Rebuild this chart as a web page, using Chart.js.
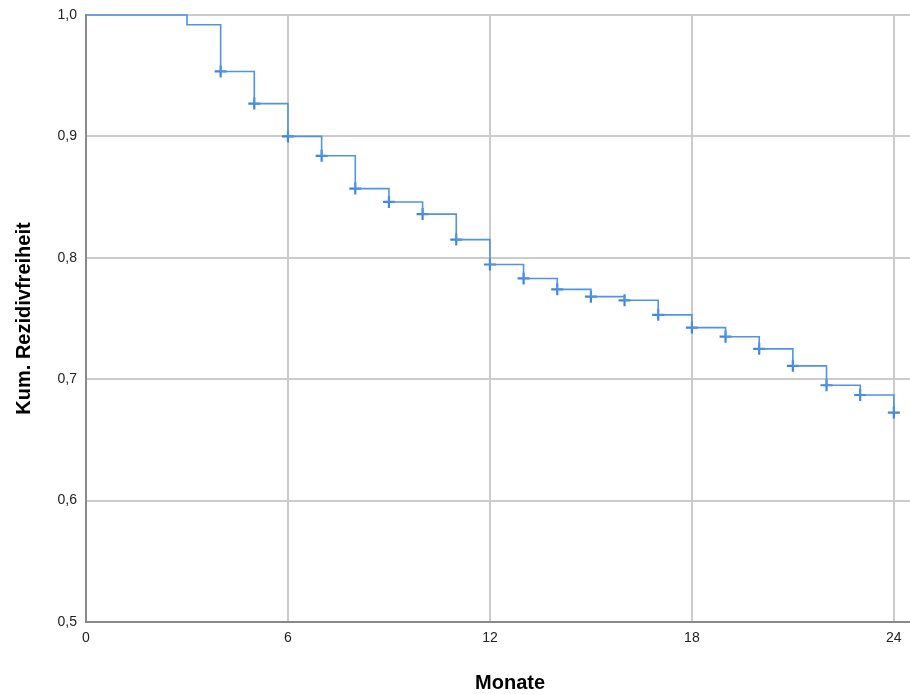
<!DOCTYPE html>
<html>
<head>
<meta charset="utf-8">
<script src="https://cdn.jsdelivr.net/npm/chart.js@4/dist/chart.umd.min.js"></script>
<style>
  html, body { margin: 0; padding: 0; background: #fff; }
  #wrap { width: 910px; height: 694px; position: relative; }
</style>
</head>
<body>
<div id="wrap"><canvas id="km"></canvas></div>
<script>
// Kaplan-Meier steps: time of each drop (months) and survival after it
var months = [0, 3, 4, 5, 6, 7, 8, 9, 10, 11, 12, 13, 14, 15, 16, 17, 18, 19, 20, 21, 22, 23, 24];
var surv = [1.0, 0.992, 0.9535, 0.927, 0.900, 0.884, 0.857, 0.846, 0.836, 0.815, 0.7945, 0.783,
            0.774, 0.768, 0.765, 0.753, 0.7425, 0.735, 0.725, 0.711, 0.695, 0.687, 0.6725];
// censored cases (+ marks)
var censorMonths = [4, 5, 6, 7, 8, 9, 10, 11, 12, 13, 14, 15, 16, 17, 18, 19, 20, 21, 22, 23, 24];
var censorSurv = [0.9535, 0.927, 0.900, 0.884, 0.857, 0.846, 0.836, 0.815, 0.7945, 0.783, 0.774,
                  0.768, 0.765, 0.753, 0.7425, 0.735, 0.725, 0.711, 0.695, 0.687, 0.6725];
var xTicks = [0, 6, 12, 18, 24];
var yTicks = [0.5, 0.6, 0.7, 0.8, 0.9, 1.0];

var LINE = '#5193e4', MARK = '#3f86dd';
var FONT = "'Liberation Sans', Arial, sans-serif";

// axis titles, drawn by hand so they sit where the original puts them
var axisTitles = {
  id: 'axisTitles',
  afterDraw: function (c) {
    var g = c.ctx, a = c.chartArea, xs = c.scales.x;
    g.save();
    g.fillStyle = '#000';
    g.font = 'bold 20px ' + FONT;
    g.textAlign = 'center';
    g.textBaseline = 'middle';
    g.fillText('Monate', xs.getPixelForValue(12.6), 683);
    g.translate(24, (a.top + a.bottom) / 2);
    g.rotate(-Math.PI / 2);
    g.fillText('Kum. Rezidivfreiheit', 0, 0);
    g.restore();
  }
};

new Chart(document.getElementById('km'), {
  type: 'scatter',
  data: {
    datasets: [{
      type: 'line',
      data: months.map(function (m, i) { return { x: m, y: surv[i] }; }),
      stepped: 'before',
      borderColor: LINE,
      borderWidth: 1.6,
      pointRadius: 0,
      fill: false,
      clip: 4
    }, {
      data: censorMonths.map(function (m, i) { return { x: m, y: censorSurv[i] }; }),
      pointStyle: 'cross',
      pointRadius: 6,
      borderColor: MARK,
      borderWidth: 2.2,
      backgroundColor: MARK,
      clip: 8
    }]
  },
  options: {
    responsive: true,
    maintainAspectRatio: false,
    animation: false,
    layout: { autoPadding: false, padding: { top: 15, right: 0, left: 0, bottom: 0 } },
    plugins: { legend: { display: false }, tooltip: { enabled: false } },
    scales: {
      x: {
        type: 'linear', min: 0, max: 24.48,
        afterBuildTicks: function (s) { s.ticks = xTicks.map(function (v) { return { value: v }; }); },
        afterFit: function (s) { s.height = 72; s.paddingRight = 0; s.paddingLeft = 0; },
        grid: { color: '#cbcbcb', lineWidth: 2, drawTicks: false },
        border: { color: '#8a8a8a', width: 2 },
        ticks: { color: '#222', font: { family: FONT, size: 14 }, padding: 8, maxRotation: 0,
                 callback: function (v) { return String(v); } }
      },
      y: {
        min: 0.5, max: 1.0,
        afterBuildTicks: function (s) { s.ticks = yTicks.map(function (v) { return { value: v }; }); },
        afterFit: function (s) { s.width = 86; s.paddingTop = 0; s.paddingBottom = 0; },
        grid: { color: '#cbcbcb', lineWidth: 2, drawTicks: false },
        border: { color: '#8a8a8a', width: 2 },
        ticks: { color: '#222', font: { family: FONT, size: 14 }, padding: 9,
                 callback: function (v) { return v.toFixed(1).replace('.', ','); } }
      }
    }
  },
  plugins: [axisTitles]
});
</script>
</body>
</html>
